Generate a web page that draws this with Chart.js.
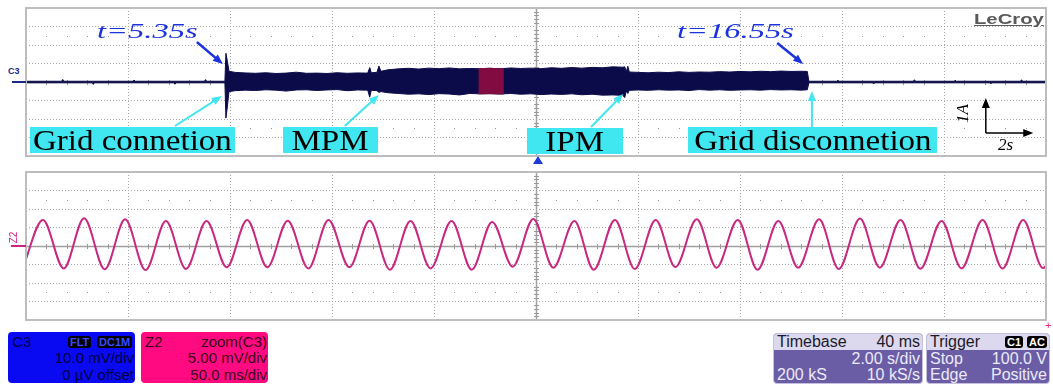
<!DOCTYPE html>
<html lang="en">
<head>
<meta charset="UTF-8" />
<title>Grid connection transient</title>
<script src="https://cdn.jsdelivr.net/npm/chart.js"></script>
<style>
  body { margin: 0; width: 1053px; height: 385px; background: #fff; position: relative; overflow: hidden;
         font-family: "Liberation Sans", Arial, sans-serif; }
  canvas { position: absolute; left: 24px; }
  #topChart { top: 6px; }
  #botChart { top: 170px; }
  .lbl { position: absolute; top: 127px; height: 26px; line-height: 26px; background: #40e6f0; text-align: center;
         font-family: "Liberation Serif", serif; font-size: 30px; color: #000; white-space: nowrap; z-index: 2; }
  .lbl span, .tl span { display: inline-block; transform: scaleX(1.1); }
  .tl { position: absolute; font-family: "Liberation Serif", serif; font-style: italic; font-size: 21px; line-height: 21px;
        color: #1b32dc; white-space: nowrap; z-index: 2; }
  .tl span { transform: scaleX(1.55); transform-origin: left center; }
  .sc { position: absolute; font-family: "Liberation Serif", serif; font-style: italic; font-size: 17px; line-height: 17px; color: #000; z-index: 2; }
  .ib { position: absolute; border-radius: 4px; font-size: 15px; line-height: 16px; white-space: nowrap; overflow: hidden; }
  .ib span { position: absolute; }
  .tag { background: #000; border-radius: 3px; font-size: 11px; font-weight: bold; line-height: 12px; padding: 0 2px; }
</style>
</head>
<body>

<canvas id="topChart" width="1024" height="152"></canvas>
<canvas id="botChart" width="1024" height="152"></canvas>

<!-- channel markers -->
<div style="position:absolute;left:8px;top:66px;font-size:9px;font-weight:bold;color:#1a2a80;">C3</div>
<div style="position:absolute;left:12px;top:81px;width:14px;height:2px;background:#1a2a80;"></div>
<div style="position:absolute;left:8px;top:232px;font-size:10px;color:#d02080;transform:rotate(-90deg);">Z2</div>
<div style="position:absolute;left:11px;top:245px;width:15px;height:2px;background:#d02080;"></div>
<div style="position:absolute;left:533px;top:156px;width:0;height:0;border-left:5px solid transparent;border-right:5px solid transparent;border-bottom:8px solid #1b3ad8;"></div>

<div style="position:absolute;left:974px;top:10px;font-size:15px;font-weight:bold;color:#5a5a5a;text-decoration:underline;transform:scaleX(1.35);transform-origin:left;z-index:2;">LeCroy</div>

<div class="tl" style="left:97px;top:21px;"><span>t=5.35s</span></div>
<div class="tl" style="left:677px;top:21px;"><span>t=16.55s</span></div>

<div class="lbl" style="left:30px;width:205px;"><span>Grid connetion</span></div>
<div class="lbl" style="left:283px;width:95px;"><span>MPM</span></div>
<div class="lbl" style="left:527px;width:96px;top:128px;"><span>IPM</span></div>
<div class="lbl" style="left:688px;width:249px;"><span>Grid disconnetion</span></div>

<div class="sc" style="left:953px;top:105px;transform:rotate(-90deg);">1A</div>
<div class="sc" style="left:998px;top:136px;">2s</div>

<!-- info boxes -->
<div class="ib" style="left:8px;top:332px;width:127px;height:51px;background:#0a0af2;color:#00003c;">
  <span style="left:4px;top:2px;">C3</span>
  <span class="tag" style="left:60px;top:4px;color:#3a4aff;">FLT</span>
  <span class="tag" style="left:89px;top:4px;color:#3a4aff;">DC1M</span>
  <span style="right:1px;top:18px;">10.0 mV/div</span>
  <span style="right:1px;top:35px;">0 µV offset</span>
</div>
<div class="ib" style="left:141px;top:332px;width:127px;height:51px;background:#ff0a80;color:#3c0018;">
  <span style="left:4px;top:2px;">Z2</span>
  <span style="right:1px;top:2px;">zoom(C3)</span>
  <span style="right:1px;top:18px;">5.00 mV/div</span>
  <span style="right:1px;top:35px;">50.0 ms/div</span>
</div>
<div class="ib" style="left:773px;top:333px;width:148px;height:49px;background:#6a5da6;color:#eceaf8;border:1px solid #c4bfdc;font-size:16px;">
  <span style="left:0;top:0;width:148px;height:16px;background:#dcd8ee;"></span>
  <span style="left:3px;top:0;color:#1a1a2a;">Timebase</span>
  <span style="right:2px;top:0;color:#1a1a2a;">40 ms</span>
  <span style="right:2px;top:17px;">2.00 s/div</span>
  <span style="left:3px;top:33px;">200 kS</span>
  <span style="right:2px;top:33px;">10 kS/s</span>
</div>
<div class="ib" style="left:926px;top:333px;width:122px;height:49px;background:#6a5da6;color:#eceaf8;border:1px solid #c4bfdc;font-size:16px;">
  <span style="left:0;top:0;width:122px;height:16px;background:#dcd8ee;"></span>
  <span style="left:3px;top:0;color:#1a1a2a;">Trigger</span>
  <span class="tag" style="left:78px;top:2px;color:#fff;">C1</span>
  <span class="tag" style="left:100px;top:2px;color:#fff;">AC</span>
  <span style="left:3px;top:17px;">Stop</span>
  <span style="right:2px;top:17px;">100.0 V</span>
  <span style="left:3px;top:33px;">Edge</span>
  <span style="right:2px;top:33px;">Positive</span>
</div>
<div style="position:absolute;left:1045px;top:319px;font-size:11px;color:#e0207a;">+</div>

<script>
  // C3 current envelope (time in s, amplitude in divisions = A)
  const envT = [0, 0.7, 0.72, 0.74, 1.3, 1.32, 1.34, 2.1, 2.12, 2.14, 2.9, 2.92, 2.94, 3.5, 3.52, 3.54, 3.9,
    3.92, 3.95, 3.98,
    4.1, 4.3, 4.5, 4.7, 4.9, 5.1, 5.3, 5.5, 5.7, 5.9, 6.1, 6.3, 6.5, 6.7,
    6.74, 6.77, 6.88, 6.92, 6.96,
    7.1, 7.3, 7.5, 7.7, 7.9, 8.1, 8.3, 8.5, 8.7, 8.9, 9.1, 9.3, 9.5, 9.7, 9.9, 10.1, 10.3, 10.5, 10.7, 10.9, 11.1, 11.3, 11.5, 11.7,
    11.74, 11.77, 11.8, 11.83,
    12.0, 12.2, 12.4, 12.6, 12.8, 13.0, 13.2, 13.4, 13.6, 13.8, 14.0, 14.2, 14.4, 14.6, 14.8, 15.0, 15.2, 15.32,
    15.35, 15.9, 15.92, 15.94, 16.6, 16.62, 16.64, 17.4, 17.42, 17.44, 18.2, 18.22, 18.24, 18.9, 18.92, 18.94, 19.5, 19.52, 19.54, 20];
  const envHi = [0.04, 0.04, 0.14, 0.04, 0.04, 0.04, 0.04, 0.04, 0.11, 0.04, 0.04, 0.04, 0.04, 0.04, 0.13, 0.04, 0.04,
    1.55, 1.1, 0.58,
    0.52, 0.49, 0.47, 0.50, 0.46, 0.48, 0.53, 0.47, 0.48, 0.46, 0.50, 0.47, 0.49, 0.48,
    0.78, 0.50, 0.52, 0.86, 0.58,
    0.66, 0.71, 0.74, 0.70, 0.75, 0.72, 0.76, 0.71, 0.73, 0.72, 0.74, 0.71, 0.76, 0.73, 0.75, 0.72, 0.77, 0.74, 0.78, 0.75, 0.79, 0.77, 0.82, 0.80,
    0.82, 0.55, 0.85, 0.54,
    0.52, 0.50, 0.53, 0.51, 0.55, 0.52, 0.54, 0.53, 0.56, 0.54, 0.57, 0.55, 0.58, 0.56, 0.59, 0.57, 0.58, 0.57,
    0.04, 0.04, 0.10, 0.04, 0.04, 0.04, 0.04, 0.04, 0.12, 0.04, 0.04, 0.10, 0.04, 0.04, 0.04, 0.04, 0.04, 0.12, 0.04, 0.04];
  const envLo = [-0.04, -0.04, -0.04, -0.04, -0.04, -0.13, -0.04, -0.04, -0.04, -0.04, -0.04, -0.12, -0.04, -0.04, -0.04, -0.04, -0.04,
    -1.95, -1.3, -0.52,
    -0.47, -0.44, -0.46, -0.42, -0.44, -0.49, -0.43, -0.42, -0.46, -0.43, -0.41, -0.47, -0.43, -0.44,
    -0.82, -0.45, -0.47, -0.56, -0.52,
    -0.58, -0.62, -0.66, -0.64, -0.68, -0.63, -0.65, -0.70, -0.62, -0.64, -0.63, -0.65, -0.62, -0.66, -0.64, -0.68, -0.65, -0.67, -0.64, -0.69, -0.66, -0.71, -0.70, -0.72,
    -0.84, -0.48, -0.62, -0.45,
    -0.43, -0.45, -0.42, -0.44, -0.43, -0.46, -0.41, -0.44, -0.42, -0.45, -0.43, -0.42, -0.44, -0.41, -0.43, -0.42, -0.44, -0.42,
    -0.04, -0.04, -0.04, -0.04, -0.04, -0.11, -0.04, -0.04, -0.04, -0.04, -0.04, -0.04, -0.04, -0.04, -0.10, -0.04, -0.04, -0.04, -0.04, -0.04];

  // zoomed-in (Z2) slice of the trace shown in red on C3
  const redT = [8.87, 9.1, 9.37];
  const redHi = [0.72, 0.74, 0.71];
  const redLo = [-0.64, -0.63, -0.65];

  // Z2 sine: extrema (time in ms, amplitude in divisions)
  const zT = [-1.6, 8.3, 18.5, 28.5, 38.6, 48.6, 58.6, 68.6, 78.4, 88.5, 98.4, 108.4, 118.3, 128.3, 138.4, 148.3, 158.5,
    168.4, 178.4, 188.5, 198.3, 208.6, 218.5, 228.5, 238.6, 248.7, 258.5, 268.8, 278.3, 288.7, 298.4, 308.7, 318.3,
    328.8, 338.5, 348.9, 358.6, 368.8, 378.5, 388.8, 398.4, 408.8, 418.5, 428.7, 438.4, 448.8, 458.6, 468.9, 478.7,
    488.8, 498.5, 508.6];
  const zV = [-1.2, 1.41, -1.21, 1.50, -1.26, 1.44, -1.30, 1.35, -1.24, 1.35, -1.15, 1.41, -1.15, 1.37, -1.21, 1.41, -1.15,
    1.37, -1.28, 1.35, -1.21, 1.35, -1.28, 1.30, -1.12, 1.46, -1.17, 1.35, -1.28, 1.41, -1.24, 1.41, -1.14,
    1.44, -1.17, 1.41, -1.28, 1.35, -1.17, 1.44, -1.24, 1.48, -1.17, 1.41, -1.23, 1.35, -1.21, 1.41, -1.21,
    1.41, -1.19, 1.40];

  // annotation arrows in C3 axis units
  const arrows = [
    { from: [3.35, 2.16], to: [3.86, 0.97], color: '#1b32dc', w: 2.5 },
    { from: [14.73, 2.11], to: [15.24, 0.97], color: '#1b32dc', w: 2.5 },
    { from: [2.92, -2.38], to: [3.84, -0.76], color: '#40e6f0', w: 2 },
    { from: [6.25, -2.38], to: [6.92, -0.70], color: '#40e6f0', w: 2 },
    { from: [11.08, -2.43], to: [11.71, -0.65], color: '#40e6f0', w: 2 },
    { from: [15.41, -2.43], to: [15.41, -0.49], color: '#40e6f0', w: 2 },
    { from: [18.82, -2.76], to: [18.82, -0.86], color: '#000', w: 1.5 },
    { from: [18.82, -2.76], to: [19.75, -2.76], color: '#000', w: 1.5 }
  ];

  function pts(xs, ys) {
    return xs.map((x, i) => ({ x: x, y: ys[i] }));
  }

  const scopeGrid = {
    id: 'scopeGrid',
    beforeDatasetsDraw(chart) {
      const { ctx, chartArea: a, scales: { x, y } } = chart;
      const cx = Math.round(x.getPixelForValue((x.min + x.max) / 2)) + 0.5;
      const cy = Math.round(y.getPixelForValue(0)) + 0.5;
      const xdiv = (x.max - x.min) / 10;
      ctx.save();
      ctx.strokeStyle = '#a0a0a0';
      ctx.lineWidth = 1.5;
      ctx.beginPath();
      ctx.moveTo(cx, a.top); ctx.lineTo(cx, a.bottom);
      ctx.moveTo(a.left, cy); ctx.lineTo(a.right, cy);
      ctx.stroke();
      ctx.fillStyle = '#9a9a9a';
      for (let k = 1; k < 50; k++) {
        if (k % 5 === 0) continue;
        const px = Math.round(x.getPixelForValue(x.min + k * xdiv / 5));
        ctx.fillRect(px, Math.round(y.getPixelForValue(2.5)), 1, 1);
        ctx.fillRect(px, Math.round(y.getPixelForValue(-2.5)), 1, 1);
        ctx.fillRect(px, cy - 2.5, 1, 5);
      }
      for (let k = 1; k < 40; k++) {
        if (k % 5 === 0) continue;
        const py = Math.round(y.getPixelForValue(-4 + k * 0.2));
        ctx.fillRect(cx - 2.5, py, 5, 1);
      }
      ctx.restore();
    },
    afterDraw(chart) {
      const { ctx, chartArea: a } = chart;
      ctx.save();
      ctx.strokeStyle = '#bdbdbd';
      ctx.lineWidth = 2;
      ctx.strokeRect(a.left, a.top, a.right - a.left, a.bottom - a.top);
      ctx.restore();
    }
  };

  const arrowPlugin = {
    id: 'arrowPlugin',
    afterDraw(chart) {
      const { ctx, scales: { x, y } } = chart;
      ctx.save();
      arrows.forEach(ar => {
        const x1 = x.getPixelForValue(ar.from[0]), y1 = y.getPixelForValue(ar.from[1]);
        const x2 = x.getPixelForValue(ar.to[0]), y2 = y.getPixelForValue(ar.to[1]);
        const ang = Math.atan2(y2 - y1, x2 - x1);
        const hl = 10, hw = 4;
        ctx.strokeStyle = ar.color;
        ctx.fillStyle = ar.color;
        ctx.lineWidth = ar.w;
        ctx.beginPath();
        ctx.moveTo(x1, y1);
        ctx.lineTo(x2 - Math.cos(ang) * hl * 0.8, y2 - Math.sin(ang) * hl * 0.8);
        ctx.stroke();
        ctx.beginPath();
        ctx.moveTo(x2, y2);
        ctx.lineTo(x2 - Math.cos(ang) * hl - Math.sin(ang) * hw, y2 - Math.sin(ang) * hl + Math.cos(ang) * hw);
        ctx.lineTo(x2 - Math.cos(ang) * hl + Math.sin(ang) * hw, y2 - Math.sin(ang) * hl - Math.cos(ang) * hw);
        ctx.closePath();
        ctx.fill();
      });
      ctx.restore();
    }
  };

  function scopeScales(xmax, xstep) {
    return {
      x: {
        type: 'linear', min: 0, max: xmax,
        ticks: { display: false, stepSize: xstep },
        grid: { color: '#a6a6a6', lineWidth: 1, drawTicks: false },
        border: { display: false, dash: [1, 2] }
      },
      y: {
        type: 'linear', min: -4, max: 4,
        ticks: { display: false, stepSize: 1 },
        grid: { color: '#a6a6a6', lineWidth: 1, drawTicks: false },
        border: { display: false, dash: [1, 2] }
      }
    };
  }

  const baseOpts = {
    responsive: false,
    animation: false,
    layout: { padding: 2 },
    plugins: { legend: { display: false }, tooltip: { enabled: false } },
    elements: { point: { radius: 0 } }
  };

  // Chart.js paints dataset 0 last, so the red zoom slice goes first to sit on top
  new Chart(document.getElementById('topChart').getContext('2d'), {
    type: 'line',
    data: {
      datasets: [
        { data: pts(redT, redLo), borderColor: '#820c42', borderWidth: 1, fill: false },
        { data: pts(redT, redHi), borderColor: '#820c42', borderWidth: 1, fill: '-1', backgroundColor: '#820c42' },
        { data: pts(envT, envLo), borderColor: '#0b0b4a', borderWidth: 1, fill: false },
        { data: pts(envT, envHi), borderColor: '#0b0b4a', borderWidth: 1, fill: '-1', backgroundColor: '#0b0b4a' }
      ]
    },
    options: Object.assign({}, baseOpts, { scales: scopeScales(20, 2) }),
    plugins: [scopeGrid, arrowPlugin]
  });

  new Chart(document.getElementById('botChart').getContext('2d'), {
    type: 'line',
    data: {
      datasets: [
        { data: pts(zT, zV), borderColor: '#c8287f', borderWidth: 2, fill: false, cubicInterpolationMode: 'monotone' }
      ]
    },
    options: Object.assign({}, baseOpts, { scales: scopeScales(500, 50) }),
    plugins: [scopeGrid]
  });
</script>
</body>
</html>
